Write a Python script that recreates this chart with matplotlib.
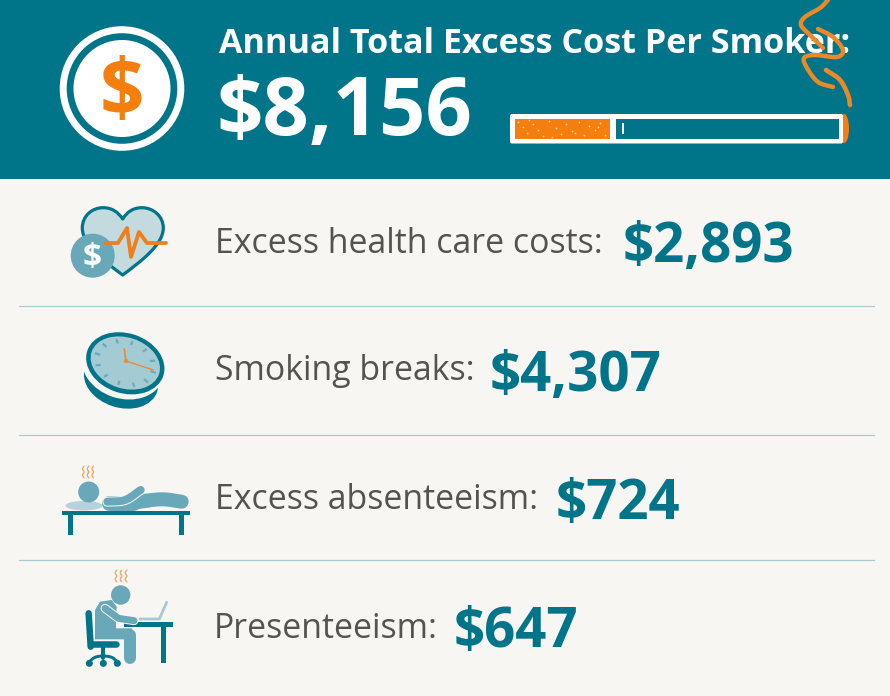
import numpy as np
import matplotlib
matplotlib.use("Agg")
import matplotlib.pyplot as plt
from matplotlib.patches import Circle, Ellipse, Rectangle, PathPatch, FancyBboxPatch
from matplotlib.path import Path

# ---- data ----
title = "Annual Total Excess Cost Per Smoker:"
total_value = "$8,156"
categories = ["Excess health care costs:", "Smoking breaks:", "Excess absenteeism:", "Presenteeism:"]
values = [2893, 4307, 724, 647]

# ---- layout ----
label_base = [253, 380, 509, 638]
value_base = [262, 391, 519, 647]
value_x = [623, 490, 556, 454]
label_x = [215, 215, 215, 214]
divider_y = [306, 435, 560]

TEAL = "#007489"
ORANGE = "#F57F0E"
BG = "#F8F6F3"
MID = "#69A8B9"
LIGHT = "#C3DADF"
GREY = "#55524F"
FONT = "Open Sans"

fig = plt.figure(figsize=(8.9, 6.96), dpi=100, facecolor=BG)
ax = fig.add_axes([0, 0, 1, 1])
ax.set_xlim(0, 890)
ax.set_ylim(696, 0)
ax.axis("off")


def lw(px):
    return px * 0.72


def smooth(pts, n=16):
    p = np.array(pts, float)
    p = np.vstack([2 * p[0] - p[1], p, 2 * p[-1] - p[-2]])
    out = []
    for i in range(1, len(p) - 2):
        for t in np.linspace(0, 1, n, endpoint=False):
            a, b, c, d = p[i - 1], p[i], p[i + 1], p[i + 2]
            out.append(0.5 * (2 * b + (c - a) * t + (2 * a - 5 * b + 4 * c - d) * t ** 2
                              + (3 * b - a - 3 * c + d) * t ** 3))
    out.append(p[-2])
    return np.array(out)


def stroke(pts, w, c, curved=False, z=3, cap="round"):
    a = smooth(pts) if curved else np.array(pts, float)
    ax.plot(a[:, 0], a[:, 1], color=c, lw=lw(w), solid_capstyle=cap, solid_joinstyle="round", zorder=z)


def zoom_pts(pts, ox, oy):
    return [(ox + x / 3, oy + y / 3) for x, y in pts]


def steam(xs, y0, y1, w=1.1):
    for x in xs:
        ys = np.linspace(y0, y1, 5)
        pts = [(x + d, y) for d, y in zip([0.8, -0.8, 0.8, -0.8, 0.8], ys)]
        stroke(pts, w, "#F09A50", curved=True)


# header
ax.add_patch(Rectangle((0, 0), 890, 179, fc=TEAL, ec="none", zorder=1))

# coin
ax.add_patch(Circle((122, 88.5), 62.3, fc="white", ec="none", zorder=2))
ax.add_patch(Circle((122, 88.5), 55.3, fc=TEAL, ec="none", zorder=2))
ax.add_patch(Circle((122, 88.5), 48.5, fc="white", ec="none", zorder=2))
ax.text(121.5, 94, "$", color=ORANGE, fontsize=56, fontweight="bold", family=FONT,
        ha="center", va="center", zorder=3)

# header text
ax.text(219, 53, title, color="white", fontsize=24.6, fontweight="bold", family=FONT,
        va="baseline", zorder=3)
ax.text(217, 135, total_value, color="white", fontsize=58.6, fontweight="bold", family=FONT,
        va="baseline", zorder=3)

# cigarette
ax.add_patch(FancyBboxPatch((510, 114), 333, 29.5, boxstyle="round,pad=0,rounding_size=2",
                            fc="white", ec="none", zorder=2))
ax.add_patch(Rectangle((514.5, 118.7), 95.5, 20, fc=ORANGE, ec="none", zorder=3))
ax.add_patch(Rectangle((615.5, 118.7), 223, 20, fc=TEAL, ec="none", zorder=3))
ax.add_patch(Rectangle((622, 123), 2, 11, fc="white", ec="none", zorder=4))
speck_x = [518, 523, 527, 533, 538, 543, 549, 556, 561, 566, 572, 579, 584, 589, 595, 600, 605, 529, 552, 575, 598]
speck_y = [122, 127, 133, 124, 130, 136, 121, 128, 134, 124, 131, 122, 135, 126, 130, 123, 135, 120, 137, 133, 127]
ax.scatter(speck_x, speck_y, s=1.6, c="#FBD9A8", linewidths=0, zorder=4)
ember = Ellipse((844, 128.5), 10, 29, fc=ORANGE, ec="none", zorder=1.5)
ax.add_patch(ember)

# smoke
stroke([(828, 0), (820, 8), (805, 17), (801, 25), (810, 35), (823, 48)], 4.4, "#E98A27", curved=True)
stroke([(818, 29), (833, 37), (843, 50), (837, 57), (815, 55), (804, 58), (807, 68), (818, 82), (833, 87)],
       4.4, "#E98A27", curved=True)
stroke([(826, 70), (840, 80), (848, 95), (850, 105)], 4.6, "#E98A27", curved=True)

# rows
for y in divider_y:
    ax.plot([19, 874], [y, y], color="#A9C9D1", lw=lw(1.2), zorder=2)
for i, (cat, val) in enumerate(zip(categories, values)):
    ax.text(label_x[i], label_base[i], cat, color=GREY, fontsize=24.4, family=FONT, va="baseline", zorder=3)
    ax.text(value_x[i], value_base[i], f"${val:,}", color=TEAL, fontsize=39.3, fontweight="bold", family=FONT,
            va="baseline", zorder=3)

# heart icon
V = [(122.7, 219),
     (118, 212), (112, 207.7), (103, 207.7),
     (92, 207.7), (82.3, 216), (82.3, 228),
     (82.3, 245), (105, 262), (122.7, 275),
     (140, 262), (163.3, 245), (163.3, 228),
     (163.3, 216), (153, 207.7), (142, 207.7),
     (133, 207.7), (127, 212), (122.7, 219),
     (122.7, 219)]
C = [Path.MOVETO] + [Path.CURVE4] * 18 + [Path.CLOSEPOLY]
ax.add_patch(PathPatch(Path(V, C), fc=LIGHT, ec=TEAL, lw=lw(3.2), zorder=3, joinstyle="round"))
ax.add_patch(Circle((92.7, 255.7), 22, fc=MID, ec="none", zorder=4))
ax.text(92.5, 259, "$", color="white", fontsize=24, fontweight="bold", family=FONT, ha="center", va="center", zorder=5)
stroke([(105, 243), (118, 243), (127, 228), (131, 257), (139, 232), (147, 243), (166, 243)], 3.8, "#EE7F1A", z=6)

# clock icon
ax.add_patch(Ellipse((121, 380), 76, 55, angle=18, fc=TEAL, ec="none", zorder=3))
ax.add_patch(Ellipse((123, 366), 84, 65, angle=18, fc=BG, ec="none", zorder=4))
ax.add_patch(Ellipse((125.3, 363.3), 80, 60, angle=18, fc=TEAL, ec="none", zorder=5))
ax.add_patch(Ellipse((125.3, 363), 71, 51, angle=18, fc="#A3CBD4", ec="none", zorder=6))
rot = np.deg2rad(18)
for k in range(12):
    t = 2 * np.pi * k / 12
    for_pts = []
    for r in (0.74, 0.90):
        ex, ey = 35.5 * r * np.cos(t), 25.5 * r * np.sin(t)
        for_pts.append((125.3 + ex * np.cos(rot) - ey * np.sin(rot), 363 + ex * np.sin(rot) + ey * np.cos(rot)))
    stroke(for_pts, 2.2, "#6FA9B9", z=7, cap="butt")
stroke([(126, 361), (124.3, 349)], 1.8, "#E98A3C", z=8)
stroke([(126, 361), (153.3, 370)], 1.4, "#E98A3C", z=8)
ax.add_patch(Circle((126, 361), 2.2, fc="#E98A3C", ec="none", zorder=8))

# lying figure
ox, oy = 50, 450
ax.add_patch(Rectangle((61.7, 511), 128.3, 4.4, fc=TEAL, ec="none", zorder=4))
ax.add_patch(Rectangle((68, 514), 4.8, 20.5, fc=TEAL, ec="none", zorder=4))
ax.add_patch(Rectangle((179, 514), 4.8, 20.5, fc=TEAL, ec="none", zorder=4))
ax.add_patch(Ellipse((84, 505.7), 37, 9.5, fc="#B5D4DA", ec="none", zorder=3))
ax.add_patch(Circle((88.7, 492), 10.5, fc=MID, ec="none", zorder=4))
stroke(zoom_pts([(178, 158), (250, 158)], ox, oy), 15, MID, z=3)
stroke(zoom_pts([(285, 152), (340, 148), (395, 155)], ox, oy), 14, MID, curved=True, z=3)
stroke(zoom_pts([(250, 160), (300, 152)], ox, oy), 13, MID, z=3)
stroke(zoom_pts([(172, 155), (225, 150), (272, 120)], ox, oy), 10, BG, curved=True, z=4)
stroke(zoom_pts([(172, 155), (225, 150), (272, 120)], ox, oy), 8, MID, curved=True, z=5)
steam([83.3, 88, 92.7], 466, 478)

# seated figure
stroke(zoom_pts([(116, 490), (122, 590)], ox, oy), 6.5, TEAL, z=3)
stroke(zoom_pts([(125, 582), (198, 582)], ox, oy), 6.5, TEAL, z=3)
stroke(zoom_pts([(160, 590), (160, 625)], ox, oy), 4, TEAL, z=3)
stroke(zoom_pts([(118, 635), (135, 622), (160, 618), (185, 622), (202, 635)], ox, oy), 3, TEAL, curved=True, z=3)
for zx in (118, 160, 202):
    ax.add_patch(Circle((ox + zx / 3, oy + 640 / 3), 3.5, fc=TEAL, ec="none", zorder=3))
ax.add_patch(Rectangle((124, 622.3), 48.5, 4.4, fc=TEAL, ec="none", zorder=4))
ax.add_patch(Rectangle((161, 625), 5, 37.5, fc=TEAL, ec="none", zorder=4))
stroke(zoom_pts([(270, 507), (328, 507), (350, 457)], ox, oy), 2.8, "#A9C9D1", z=3)
torso = zoom_pts([(135, 480), (150, 455), (185, 450), (200, 470), (198, 535), (245, 535), (258, 568),
                  (135, 568), (135, 480)], ox, oy)
ax.add_patch(plt.Polygon(torso, fc=MID, ec="none", zorder=5))
stroke(zoom_pts([(240, 555), (240, 625)], ox, oy), 12, MID, z=5)
stroke(zoom_pts([(165, 475), (205, 505), (252, 512)], ox, oy), 9, BG, z=6)
stroke(zoom_pts([(165, 475), (205, 505), (252, 512)], ox, oy), 7, MID, z=7)
ax.add_patch(Circle((120.7, 595), 9.7, fc=MID, ec="none", zorder=6))
steam([116, 121, 126], 570, 582)

fig.savefig("out.png", dpi=100, facecolor=BG)
